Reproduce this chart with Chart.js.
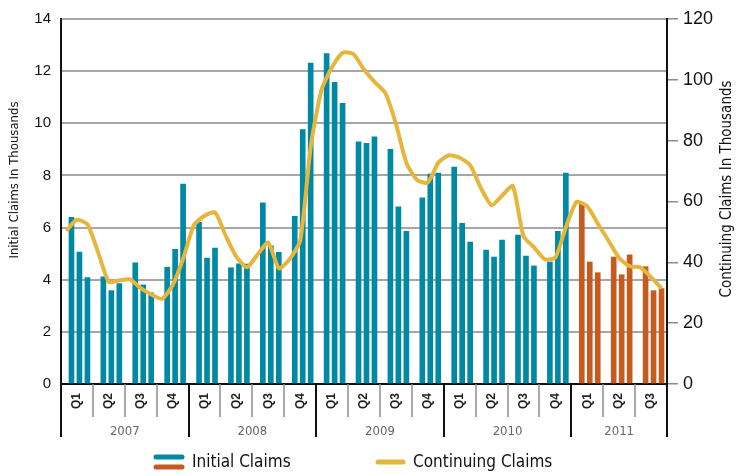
<!DOCTYPE html>
<html>
<head>
<meta charset="utf-8">
<script src="https://cdn.jsdelivr.net/npm/chart.js@4.4.0/dist/chart.umd.min.js"></script>
<style>
  html, body { margin: 0; padding: 0; background: #fff; }
  #wrap { width: 736px; height: 476px; }
</style>
</head>
<body>
<div id="wrap"><canvas id="chart" width="736" height="476"></canvas></div>
<script>
// Monthly values, Jan 2007 - Sep 2011
const initialClaims = [
  6.39, 5.06, 4.08,  4.11, 3.58, 3.85,  4.65, 3.80, 3.50,  4.48, 5.17, 7.67,
  6.20, 4.83, 5.21,  4.46, 4.61, 4.60,  6.95, 5.30, 5.05,  6.43, 9.76, 12.31,
  12.67, 11.57, 10.77,  9.29, 9.23, 9.48,  9.00, 6.80, 5.86,  7.14, 8.05, 8.09,
  8.32, 6.16, 5.44,  5.14, 4.87, 5.52,  5.71, 4.91, 4.53,  4.68, 5.86, 8.09,
  6.93, 4.68, 4.27,  4.87, 4.19, 4.95,  4.50, 3.58, 3.66
];
const continuingClaims = [
  50.4, 54.0, 52.4, 43.2, 33.5, 34.1, 34.4, 31.5, 29.4, 28.0, 32.5, 41.3,
  52.2, 55.3, 56.4, 48.7, 41.8, 38.4, 42.6, 46.5, 38.0, 41.0, 47.1, 78.3,
  96.7, 104.2, 108.9, 108.5, 103.4, 99.3, 95.7, 85.6, 72.6, 67.1, 66.2, 72.8,
  75.2, 74.4, 71.9, 64.4, 58.8, 62.0, 65.1, 48.6, 44.9, 41.0, 41.6, 51.7,
  59.9, 58.4, 52.7, 47.1, 41.4, 38.7, 38.3, 35.1, 31.4
];
const quarterLabels = [
  'Q1', 'Q2', 'Q3', 'Q4', 'Q1', 'Q2', 'Q3', 'Q4', 'Q1', 'Q2',
  'Q3', 'Q4', 'Q1', 'Q2', 'Q3', 'Q4', 'Q1', 'Q2', 'Q3'
];
const yearLabels = ['2007', '2008', '2009', '2010', '2011'];

const TEAL = '#0089a5';
const ORANGE = '#c55b1f';
const GOLD = '#e6b63c';
const FONT = "'Liberation Sans', Arial, sans-serif";
const NARROW = "'Liberation Sans Narrow', 'DejaVu Sans Condensed', 'Liberation Sans', sans-serif";

// bars sit at 1/4, 2/4, 3/4 of each quarter on a linear axis
const barPoints = initialClaims.map((v, i) => ({
  x: Math.floor(i / 3) + (i % 3 + 1) / 4,
  y: v
}));
const barColors = initialClaims.map((v, i) => (Math.floor(i / 12) === 4 ? ORANGE : TEAL));

// labels for the hidden month axis that carries the line
const monthLabels = continuingClaims.map((v, i) => yearLabels[Math.floor(i / 12)] + '-' + (i % 12 + 1));

// quarter / year labels under the axis, titles and legend
const decor = {
  id: 'decor',
  afterDraw(chart) {
    const ctx = chart.ctx;
    const x = chart.scales.x;
    const area = chart.chartArea;
    const nq = quarterLabels.length;
    ctx.save();

    // separators
    for (let q = 0; q <= nq; q++) {
      const px = Math.round(x.getPixelForValue(q));
      const yearEdge = q % 4 === 0 || q === nq;
      ctx.strokeStyle = yearEdge ? '#111' : '#8c8c8c';
      ctx.lineWidth = yearEdge ? 2 : 1.5;
      ctx.beginPath();
      ctx.moveTo(px, area.bottom);
      ctx.lineTo(px, yearEdge ? 437 : 417);
      ctx.stroke();
    }

    // quarter labels, rotated
    ctx.fillStyle = '#222';
    ctx.font = 'bold 12px ' + FONT;
    ctx.textAlign = 'center';
    ctx.textBaseline = 'middle';
    quarterLabels.forEach((lab, q) => {
      const px = x.getPixelForValue(q + 0.5);
      ctx.save();
      ctx.translate(px, 401);
      ctx.rotate(-Math.PI / 2);
      ctx.fillText(lab, 0, 0);
      ctx.restore();
    });

    // year labels
    ctx.fillStyle = '#666';
    ctx.font = '13px ' + NARROW;
    yearLabels.forEach((lab, y) => {
      const q0 = y * 4;
      const q1 = Math.min(q0 + 4, nq);
      ctx.fillText(lab, x.getPixelForValue((q0 + q1) / 2), 432);
    });

    // axis titles
    ctx.fillStyle = '#111';
    ctx.font = '13px ' + NARROW;
    ctx.save();
    ctx.translate(15, 180);
    ctx.rotate(-Math.PI / 2);
    ctx.fillText('Initial Claims In Thousands', 0, 0);
    ctx.restore();
    ctx.font = '15px ' + NARROW;
    ctx.save();
    ctx.translate(727, 189);
    ctx.rotate(-Math.PI / 2);
    ctx.fillText('Continuing Claims In Thousands', 0, 0);
    ctx.restore();

    // legend
    ctx.lineCap = 'round';
    ctx.lineWidth = 5;
    [[TEAL, 457], [ORANGE, 467]].forEach(([c, yy]) => {
      ctx.strokeStyle = c;
      ctx.beginPath();
      ctx.moveTo(156, yy);
      ctx.lineTo(182, yy);
      ctx.stroke();
    });
    ctx.strokeStyle = GOLD;
    ctx.beginPath();
    ctx.moveTo(378, 462);
    ctx.lineTo(403, 462);
    ctx.stroke();

    ctx.fillStyle = '#111';
    ctx.font = '17px ' + NARROW;
    ctx.textAlign = 'left';
    ctx.fillText('Initial Claims', 192, 463);
    ctx.fillText('Continuing Claims', 413, 463);
    ctx.restore();
  }
};

new Chart(document.getElementById('chart'), {
  type: 'bar',
  data: {
    labels: monthLabels,
    datasets: [
      {
        type: 'line',
        label: 'Continuing Claims',
        data: continuingClaims,
        xAxisID: 'x2',
        yAxisID: 'y2',
        borderColor: GOLD,
        borderWidth: 4,
        pointRadius: 0,
        tension: 0.2,
        borderJoinStyle: 'round',
        order: 0
      },
      {
        label: 'Initial Claims',
        data: barPoints,
        xAxisID: 'x',
        yAxisID: 'y',
        backgroundColor: barColors,
        barThickness: 5,
        order: 1
      }
    ]
  },
  options: {
    responsive: false,
    animation: false,
    layout: { padding: { top: 16, left: 0, right: 0, bottom: 0 } },
    plugins: {
      legend: { display: false },
      tooltip: { enabled: false }
    },
    scales: {
      x: {
        type: 'linear',
        position: 'bottom',
        offset: false,
        min: 0,
        max: quarterLabels.length,
        grid: { display: false, offset: false },
        ticks: { display: false },
        border: { display: true, color: '#111', width: 2 },
        afterFit(scale) { scale.height = 92; }
      },
      x2: {
        type: 'category',
        labels: monthLabels,
        offset: true,
        display: false
      },
      y: {
        position: 'left',
        min: 0,
        max: 14,
        ticks: {
          stepSize: 2,
          color: '#111',
          padding: 10,
          font: { family: FONT, size: 15 }
        },
        grid: { color: '#a6a6a6', lineWidth: 2, drawTicks: false },
        border: { display: true, color: '#111', width: 2 },
        afterFit(scale) { scale.width = 61; }
      },
      y2: {
        position: 'right',
        min: 0,
        max: 120,
        ticks: {
          stepSize: 20,
          color: '#111',
          padding: 5,
          font: { family: FONT, size: 18 }
        },
        grid: { drawOnChartArea: false, color: '#8c8c8c', lineWidth: 1.5, tickLength: 11 },
        border: { display: true, color: '#111', width: 2 },
        afterFit(scale) { scale.width = 69; }
      }
    }
  },
  plugins: [decor]
});
</script>
</body>
</html>
